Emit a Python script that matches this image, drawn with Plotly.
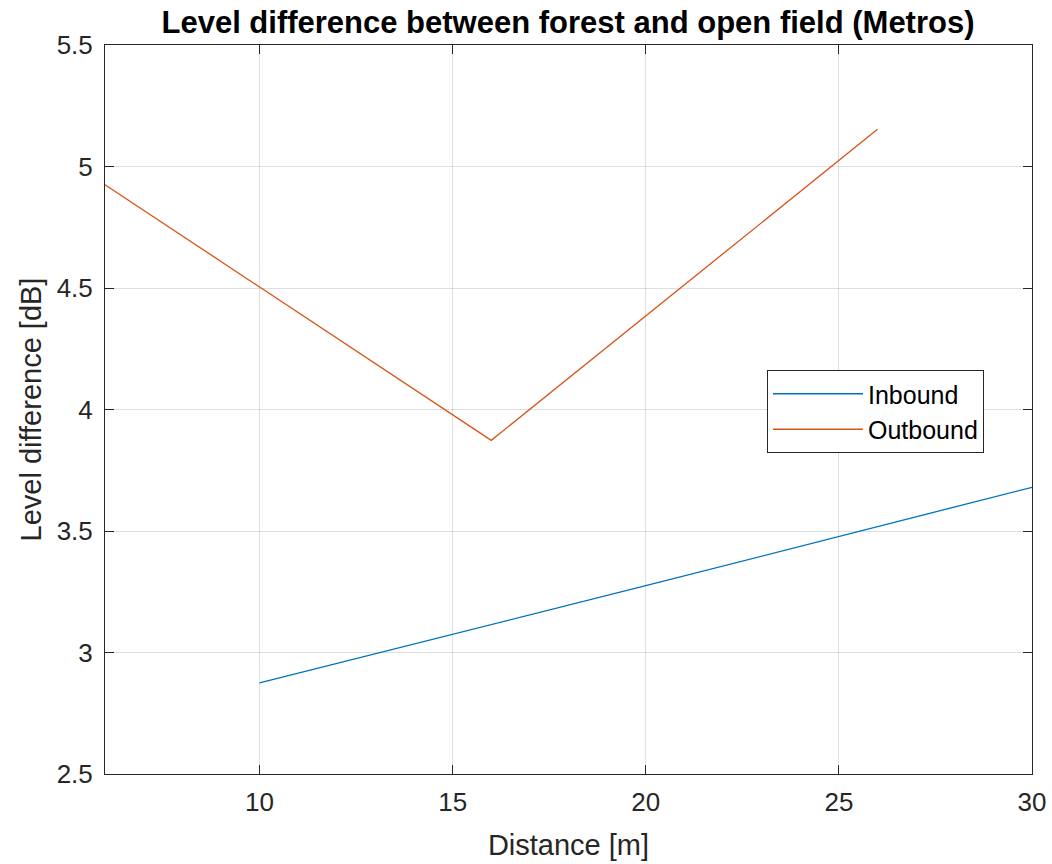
import plotly.graph_objects as go

# Measured level differences between forest and open field
inbound_distance = [10, 20, 30]
inbound_level = [2.875, 3.275, 3.68]

outbound_distance = [6, 16, 26]
outbound_level = [4.925, 3.873, 5.153]

x_ticks = [10, 15, 20, 25, 30]
y_ticks = [2.5, 3, 3.5, 4, 4.5, 5, 5.5]

FONT = "Liberation Sans, Arial, Helvetica, sans-serif"
AXIS_COLOR = "#262626"
GRID_COLOR = "rgba(38,38,38,0.15)"

fig = go.Figure()
fig.add_trace(go.Scatter(
    x=inbound_distance, y=inbound_level, mode="lines", name="Inbound",
    line=dict(color="#0072BD", width=1.3),
))
fig.add_trace(go.Scatter(
    x=outbound_distance, y=outbound_level, mode="lines", name="Outbound",
    line=dict(color="#D95319", width=1.3),
))

axis_common = dict(
    showline=True, linecolor=AXIS_COLOR, linewidth=1, mirror="ticks",
    ticks="inside", ticklen=9, tickcolor=AXIS_COLOR, tickwidth=1,
    showgrid=True, gridcolor=GRID_COLOR, gridwidth=1,
    zeroline=False, automargin=False,
    tickfont=dict(family=FONT, size=26, color=AXIS_COLOR),
)

fig.update_layout(
    width=1052, height=864,
    margin=dict(l=105, r=20, t=45, b=90),
    paper_bgcolor="white", plot_bgcolor="white",
    font=dict(family=FONT, color=AXIS_COLOR),
    title=dict(
        text="<b>Level difference between forest and open field (Metros)</b>",
        x=568 / 1052, xanchor="center",
        y=1 - 22 / 864, yanchor="middle",
        font=dict(family=FONT, size=31, color="black"),
    ),
    xaxis=dict(
        range=[6, 30], tickvals=x_ticks, ticktext=[str(v) for v in x_ticks],
        ticklabelstandoff=5,
        title=dict(text="Distance [m]", font=dict(family=FONT, size=29, color=AXIS_COLOR), standoff=18),
        **axis_common,
    ),
    yaxis=dict(
        range=[2.5, 5.5], tickvals=y_ticks, ticktext=[f"{v:g}" for v in y_ticks],
        ticklabelstandoff=6,
        title=dict(text="Level difference [dB]", font=dict(family=FONT, size=29, color=AXIS_COLOR), standoff=6),
        **axis_common,
    ),
    legend=dict(
        x=(767 - 105) / 927, y=(774 - 370) / 729, xanchor="left", yanchor="top",
        bgcolor="white", bordercolor=AXIS_COLOR, borderwidth=1,
        font=dict(family=FONT, size=25, color="black"),
        tracegroupgap=0, itemwidth=90,
    ),
    showlegend=True,
)

fig.write_html("out.html")
